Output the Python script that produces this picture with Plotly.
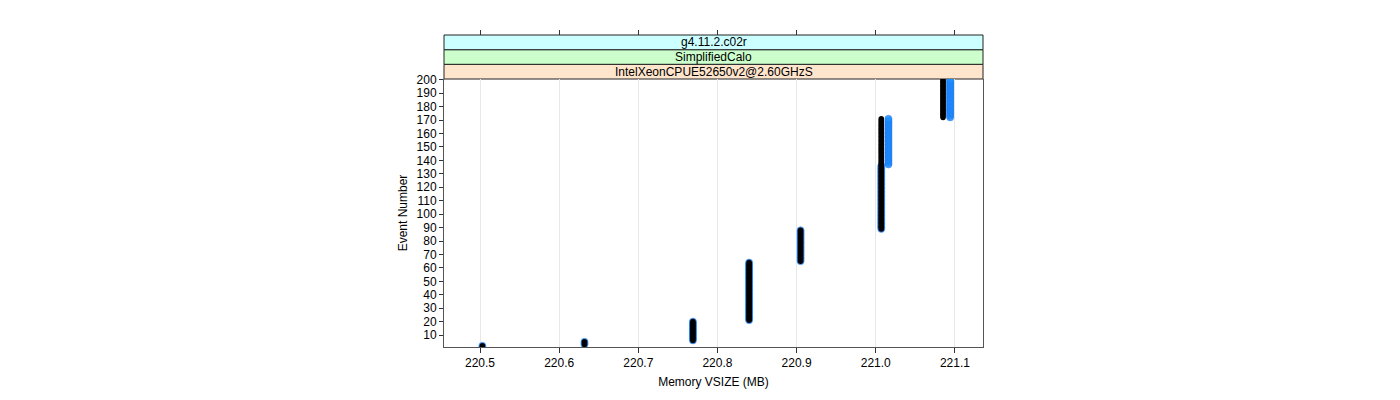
import plotly.graph_objects as go

# ---- data (run-length segments of memory per event) ----
black_first = [1, 3, 6, 21, 65, 89, 172]
black_last = [2, 5, 20, 64, 88, 171, 200]
black_mem = [220.503, 220.632, 220.769, 220.840, 220.905, 221.007, 221.085]

blue_first = [1, 3, 6, 21, 65, 89, 137, 172]
blue_last = [2, 5, 20, 64, 88, 136, 171, 200]
blue_mem = [220.503, 220.632, 220.769, 220.840, 220.905, 221.007, 221.016, 221.094]

x_ticks = [220.5, 220.6, 220.7, 220.8, 220.9, 221.0, 221.1]
x_tick_text = ["220.5", "220.6", "220.7", "220.8", "220.9", "221.0", "221.1"]
y_ticks = list(range(10, 201, 10))
strip_labels = ["IntelXeonCPUE52650v2@2.60GHzS", "SimplifiedCalo", "g4.11.2.c02r"]
strip_colors = ["#ffe5cc", "#ccffcc", "#ccffff"]


def expand(first, last, mem):
    xs, ys = [], []
    for f, l, m in zip(first, last, mem):
        for e in range(f, l + 1):
            xs.append(m)
            ys.append(e)
    return xs, ys


bx, by = expand(black_first, black_last, black_mem)
ux, uy = expand(blue_first, blue_last, blue_mem)

FONT = "Liberation Sans, Arial, Helvetica, sans-serif"
W, H = 1400, 400
L, R, T, B = 444, 983, 35, 347  # paper area in pixels
PANEL_TOP = 79
ph = B - T


def py(p):
    return (B - p) / ph


fig = go.Figure()
fig.add_trace(go.Scatter(
    x=ux, y=uy, mode="markers", showlegend=False,
    marker=dict(size=7, color="rgba(30,144,255,0.7)",
                line=dict(width=0.6, color="rgba(30,120,240,0.9)")),
))
fig.add_trace(go.Scatter(
    x=bx, y=by, mode="markers", showlegend=False,
    marker=dict(size=5.5, color="black", line=dict(width=0)),
))
# invisible trace on the top axis to show ticks above strips
fig.add_trace(go.Scatter(x=[x_ticks[0]], y=[y_ticks[0]], xaxis="x2",
                         mode="markers", marker=dict(opacity=0),
                         showlegend=False, hoverinfo="skip"))

xr = [220.4545, 221.1355]
fig.update_layout(
    width=W, height=H,
    margin=dict(l=L, r=W - R, t=T, b=H - B, pad=0),
    paper_bgcolor="white", plot_bgcolor="white",
    font=dict(family=FONT, size=12, color="black"),
    xaxis=dict(range=xr, tickvals=x_ticks, ticktext=x_tick_text,
               ticks="outside", ticklen=5, tickcolor="#333",
               showline=True, linecolor="#555", linewidth=1, mirror=False,
               showgrid=True, gridcolor="#e8e8e8", gridwidth=1,
               zeroline=False, anchor="y",
               title=dict(text="Memory VSIZE (MB)", standoff=8,
                          font=dict(family=FONT, size=12))),
    xaxis2=dict(range=xr, tickvals=x_ticks, showticklabels=False,
                ticks="outside", ticklen=5, tickcolor="#333",
                overlaying="x", side="top", anchor="free", position=1,
                showgrid=False, zeroline=False, showline=False),
    yaxis=dict(range=[1.1, 200.6], tickvals=y_ticks,
               domain=[0, py(PANEL_TOP)],
               ticks="outside", ticklen=4, tickcolor="#333",
               showline=True, linecolor="#555", linewidth=1, mirror=True,
               showgrid=False, zeroline=False,
               title=dict(text="Event Number", standoff=6,
                          font=dict(family=FONT, size=12))),
)

# strips
edges = [PANEL_TOP, 64.3, 49.7, T]
for i, (lab, col) in enumerate(zip(strip_labels, strip_colors)):
    y0, y1 = py(edges[i]), py(edges[i + 1])
    fig.add_shape(type="rect", xref="paper", yref="paper", x0=0, x1=1,
                  y0=y0, y1=y1, fillcolor=col,
                  line=dict(color="#222", width=1), layer="below")
    fig.add_annotation(text=lab, xref="paper", yref="paper", x=0.5,
                       y=(y0 + y1) / 2, showarrow=False, yanchor="middle",
                       font=dict(family=FONT, size=12, color="black"))

fig.write_html("out.html")
